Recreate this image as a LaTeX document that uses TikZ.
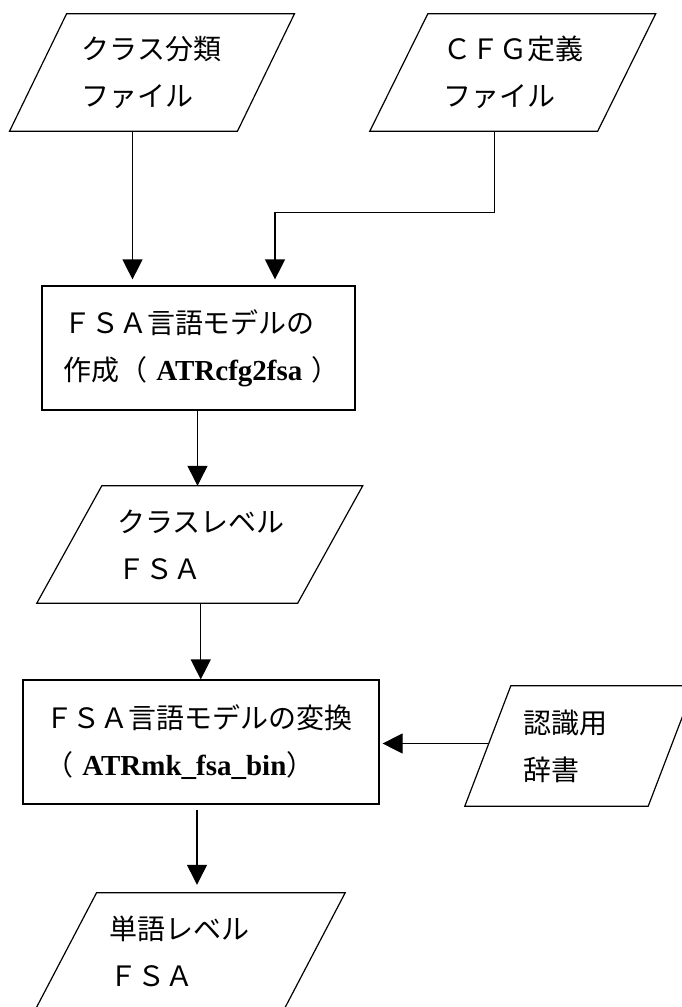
\documentclass[tikz,border=0pt]{standalone}
\usepackage{fontspec}
\setmainfont{Liberation Serif}
\newfontfamily\cjk{Noto Sans CJK JP}
\usetikzlibrary{arrows.meta}
\newcommand\myjp{\cjk\fontsize{28}{47}\selectfont}
\newcommand\mylat{\rmfamily\bfseries\fontsize{29}{47}\selectfont}
\newcommand\paraoutline[2]{\draw[lw] ([xshift=#2]#1.north west) -- ([xshift=#2]#1.north east) -- ([xshift=-#2]#1.south east) -- ([xshift=-#2]#1.south west) -- cycle;}
\tikzset{
  lw/.style={line width=1.2pt, line join=miter},
  para/.style={rectangle, draw=none, align=left, font=\myjp, inner ysep=0pt},
  proc/.style={rectangle, draw, lw, align=left, font=\myjp, inner ysep=0pt},
  arr/.style={lw, -{Triangle[length=20pt,width=20pt]}}
}
\begin{document}
\begin{tikzpicture}[x=1pt,y=-1pt]
\useasboundingbox (0,0) rectangle (681,1007);
% input files
\node[para, minimum height=117pt, text width=140.5pt, inner xsep=43.5pt] (p1) at (152,72.5) {クラス分類\\ファイル};
\node[para, minimum height=117pt, text width=139.5pt, inner xsep=44pt] (p2) at (512.75,72.5) {ＣＦＧ定義\\ファイル};
% process 1
\node[proc, minimum height=124pt, text width=271pt, inner xsep=21pt] (b1) at (198.5,348) {ＦＳＡ言語モデルの\\\mbox{作成（{\mylat\ ATRcfg2fsa\ }）}};
% class level FSA
\node[para, minimum height=117pt, text width=165.5pt, inner xsep=47.5pt] (p3) at (199.75,544.5) {クラスレベル\\ＦＳＡ};
% process 2
\node[proc, minimum height=124pt, text width=312pt, inner xsep=22pt] (b2) at (201,742) {ＦＳＡ言語モデルの変換\\\mbox{（{\mylat\ ATRmk\_fsa\_bin}）}};
% dictionary
\node[para, minimum height=120pt, text width=113pt, inner xsep=35pt] (p4) at (579.5,746) {認識用\\辞書};
% word level FSA
\node[para, minimum height=117pt, text width=160.25pt, inner xsep=44pt] (p5) at (190.1,951.5) {単語レベル\\ＦＳＡ};

\paraoutline{p1}{28.5pt}
\paraoutline{p2}{29pt}
\paraoutline{p3}{32.5pt}
\paraoutline{p4}{23pt}
\paraoutline{p5}{30.75pt}

% connectors
\draw[arr, shorten >=6pt] ([xshift=-19.5pt]p1.south) -- ([xshift=-19.5pt]p1.south |- b1.north);
\coordinate (j1) at ([xshift=-18.5pt,yshift=-81pt]p2.south);
\draw[arr, shorten >=6pt] ([xshift=-18.5pt]p2.south) -- (j1) -| ([xshift=76.5pt]b1.north);
\draw[arr] ([xshift=-1pt]b1.south) -- ([xshift=-1pt]b1.south |- p3.north);
\draw[arr] ([xshift=1pt]p3.south) -- ([xshift=1pt]p3.south |- b2.north);
\draw[arr, shorten >=3pt] ([yshift=2.5pt]p4.west) -- ([yshift=2.5pt]p4.west -| b2.east);
\draw[arr, shorten <=5pt, shorten >=8pt] ([xshift=-4pt]b2.south) -- ([xshift=-4pt]b2.south |- p5.north);
\end{tikzpicture}
\end{document}
